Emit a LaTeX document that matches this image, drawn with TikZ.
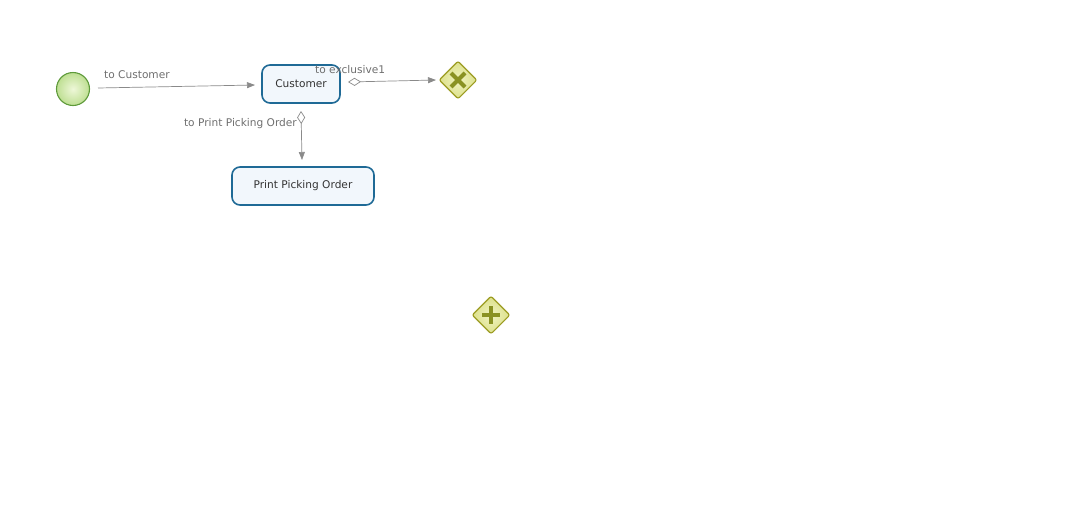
\documentclass[tikz,border=0pt]{standalone}
\usepackage{fontspec}
\setmainfont{DejaVu Sans}
\usetikzlibrary{arrows.meta,shapes.geometric}
\definecolor{linegray}{HTML}{8A8A8A}
\definecolor{labelgray}{HTML}{6E6E6E}
\definecolor{taskborder}{HTML}{1F6A96}
\definecolor{taskfill}{HTML}{F2F7FC}
\definecolor{startborder}{HTML}{5E9A3A}
\definecolor{startin}{HTML}{EEF7D8}
\definecolor{startout}{HTML}{BEDF92}
\definecolor{gwborder}{HTML}{9C9C22}
\definecolor{gwfill}{HTML}{DCE08A}
\definecolor{gwin}{HTML}{F0F3C0}
\definecolor{gwmark}{HTML}{8A9222}
\tikzset{
  x=1pt, y=-1pt,
  task/.style={draw=taskborder, line width=1.6pt, fill=taskfill, rounded corners=8pt,
    inner sep=0pt, font=\fontsize{10.6}{12}\selectfont, text=black!80},
  startev/.style={circle, draw=startborder, line width=1.1pt, inner color=startin, outer color=startout,
    minimum size=33pt, inner sep=0pt},
  gateway/.style={diamond, draw=gwborder, line width=1.1pt, inner color=gwin, outer color=gwfill,
    minimum size=38pt, inner sep=0pt, rounded corners=2pt},
  flow/.style={draw=linegray, line width=0.7pt, -{Triangle[length=8pt,width=6pt]}},
  dflow/.style={draw=linegray, line width=0.7pt, {Diamond[open,length=13pt,width=8pt]}-{Triangle[length=8pt,width=6pt]}},
  lbl/.style={font=\fontsize{10.6}{12}\selectfont, text=labelgray, inner sep=0pt},
}
\begin{document}
\begin{tikzpicture}
\useasboundingbox (0,0) rectangle (1070,528);
\node[startev] (start) at (73,89) {};
\node[task, minimum width=78pt, minimum height=38pt] (cust) at (301,84) {Customer};
\node[task, minimum width=142pt, minimum height=38pt] (ppo) at (303,186) {Print Picking Order};
\node[gateway] (xgw) at (458,80) {};
\node[gateway] (pgw) at (491,315) {};
% X mark
\draw[gwmark, line width=4pt] (451,73) -- (465,87) (465,73) -- (451,87);
% plus mark
\draw[gwmark, line width=4.5pt] (491,306) -- (491,324) (482,315) -- (500,315);
\coordinate (a1) at (98,88);
\coordinate (a2) at (255,85);
\draw[flow] (a1) -- (a2);
\node[lbl, anchor=base west] (l1) at (104,78) {to Customer};
\coordinate (b1) at (348,82);
\coordinate (b2) at (436,80);
\draw[dflow] (b1) -- (b2);
\node[lbl, anchor=base west] (l2) at (315,73) {to exclusive1};
\coordinate (c1) at (301,111);
\coordinate (c2) at (302,160);
\draw[dflow] (c1) -- (c2);
\node[lbl, anchor=base east] (l3) at (297,126) {to Print Picking Order};
\end{tikzpicture}
\end{document}
